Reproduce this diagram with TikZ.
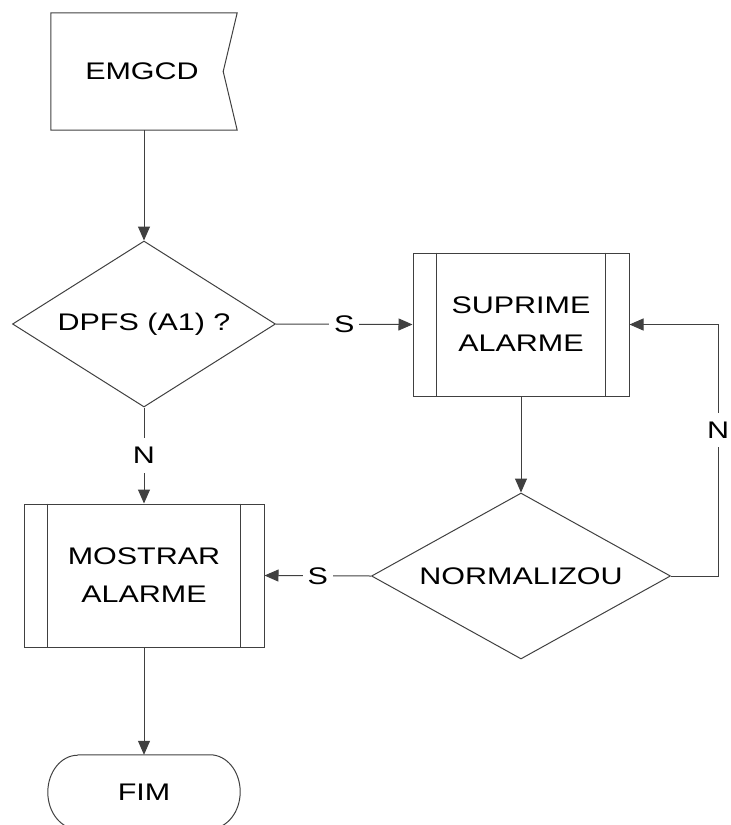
\documentclass[tikz,border=0pt]{standalone}
\usepackage{fontspec}
\newfontfamily\diagfont{Liberation Sans}[FakeStretch=1.27]
\usetikzlibrary{shapes.geometric,arrows.meta,calc}

\begin{document}
\begin{tikzpicture}[x=1pt,y=-1pt,
  line/.style={draw=black!75, line width=1pt},
  arr/.style={line, -{Triangle[length=14pt,width=12pt]}},
  txt/.style={font=\diagfont\fontsize{24}{38}\selectfont, align=center, text=black},
  decision/.style={txt, diamond, line, inner sep=0pt, minimum height=166pt},
  procbox/.style={txt, rectangle, line, inner sep=0pt, minimum width=#1, minimum height=143pt},
  plain/.style={txt, rectangle, inner sep=0pt, minimum width=#1},
  lbl/.style={txt, fill=white, inner xsep=5pt, inner ysep=9pt},
]
\useasboundingbox (0,0) rectangle (731,825);

% nodes
\node[plain=186pt, minimum height=117pt] (emg) at (144,71.5) {EMGCD\hspace{4pt}};
\node[decision, aspect=1.58, minimum width=263pt] (d1) at (144,324) {DPFS (A1) ?};
\node[procbox=216pt] (sup) at (521,324.5) {SUPRIME\\ALARME};
\node[decision, aspect=1.8, minimum width=299pt] (d2) at (521,576) {NORMALIZOU};
\node[procbox=240pt] (mos) at (144,575.5) {MOSTRAR\\ALARME};
\node[plain=192pt, minimum height=74pt] (fim) at (144,792) {FIM};
\coordinate (loopx) at (718,0);

% start symbol with notched right side
\draw[line] (emg.north west) -- (emg.north east) -- ($(emg.east)+(-14,0)$)
  -- (emg.south east) -- (emg.south west) -- cycle;

% predefined-process side bars
\foreach \n in {sup,mos}{
  \draw[line] ($(\n.north west)+(24,0)$) -- ($(\n.south west)+(24,0)$);
  \draw[line] ($(\n.north east)+(-24,0)$) -- ($(\n.south east)+(-24,0)$);
}

% terminator with elliptic ends
\draw[line] ($(fim.north west)+(30,0)$) -- ($(fim.north east)+(-30,0)$)
  arc[start angle=-90, end angle=90, x radius=30, y radius=37]
  -- ($(fim.south west)+(30,0)$)
  arc[start angle=90, end angle=270, x radius=30, y radius=37];

% connectors
\draw[arr] (emg.south) -- (d1.north);
\draw[arr] (d1.east) -- node[lbl]{S} (sup.west);
\draw[arr] (d1.south) -- node[lbl]{N} (mos.north);
\draw[arr] (sup.south) -- (d2.north);
\draw[arr] (d2.west) -- node[lbl]{S} (mos.east);
\draw[arr] (d2.east) -- (d2.east -| loopx) -- node[lbl, pos=0.58]{N} (sup.east -| loopx) -- (sup.east);
\draw[arr] (mos.south) -- (fim.north);
\end{tikzpicture}
\end{document}
